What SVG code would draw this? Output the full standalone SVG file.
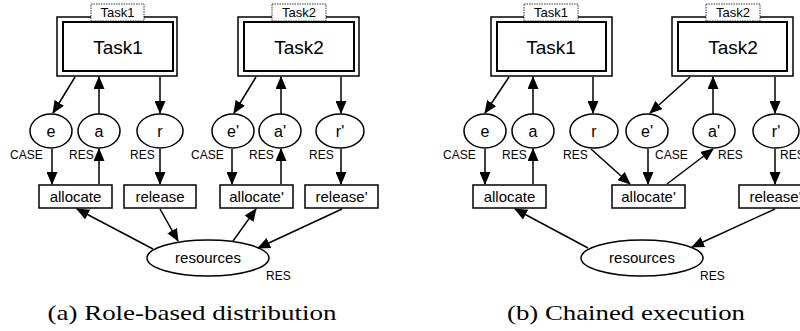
<svg xmlns="http://www.w3.org/2000/svg" width="800" height="331" viewBox="0 0 800 331">
<defs>
<marker id="ah" markerWidth="13" markerHeight="11" refX="12" refY="5.5" orient="auto" markerUnits="userSpaceOnUse">
<path d="M0,0 L13,5.5 L0,11 Z" fill="#000"/>
</marker>
<style>
.outer{fill:#fff;stroke:#000;stroke-width:1.5}
.inner{fill:#fff;stroke:#000;stroke-width:2}
.tab{fill:#fff;stroke:#000;stroke-width:0.8;stroke-dasharray:1.5,1}
.pl{fill:#fff;stroke:#000;stroke-width:1.5}
.tr{fill:#fff;stroke:#000;stroke-width:1.5}
.c line{stroke:#000;stroke-width:1.5;marker-end:url(#ah)}
text{font-family:"Liberation Sans",Arial,sans-serif;fill:#000}
.big{font-size:19px;text-anchor:middle}
.tabt{font-size:13px;text-anchor:middle}
.pt{font-size:16px;text-anchor:middle}
.rt{font-size:15px;text-anchor:middle}
.lab{font-size:12px}
.cap{font-family:"Liberation Serif","DejaVu Serif",serif;font-size:21px;text-anchor:middle}
</style>
</defs>

<!-- Panel a -->
<g id="a_task1"><rect class="outer" x="57" y="17" width="120" height="59"/><rect class="inner" x="63" y="22" width="110" height="49"/><rect class="tab" x="91" y="4" width="53" height="17"/><text class="tabt" x="117.5" y="17">Task1</text><text class="big" x="118" y="54">Task1</text></g>
<g id="a_task2"><rect class="outer" x="238" y="17" width="121" height="59"/><rect class="inner" x="244" y="22" width="110" height="49"/><rect class="tab" x="272" y="4" width="54" height="17"/><text class="tabt" x="299" y="17">Task2</text><text class="big" x="299" y="54">Task2</text></g>
<g id="a_e"><ellipse class="pl" cx="51" cy="131" rx="21" ry="17"/><text class="pt" x="51" y="137">e</text><text class="lab" x="10" y="159">CASE</text></g>
<g id="a_a"><ellipse class="pl" cx="99" cy="131" rx="21" ry="17"/><text class="pt" x="99" y="137">a</text><text class="lab" x="69" y="159">RES</text></g>
<g id="a_r"><ellipse class="pl" cx="160" cy="131" rx="23" ry="17"/><text class="pt" x="160" y="137">r</text><text class="lab" x="130" y="159">RES</text></g>
<g id="a_e2"><ellipse class="pl" cx="233" cy="131" rx="21" ry="17"/><text class="pt" x="233" y="137">e'</text><text class="lab" x="191" y="159">CASE</text></g>
<g id="a_a2"><ellipse class="pl" cx="280" cy="131" rx="21" ry="17"/><text class="pt" x="280" y="137">a'</text><text class="lab" x="249" y="159">RES</text></g>
<g id="a_r2"><ellipse class="pl" cx="340" cy="131" rx="24" ry="17"/><text class="pt" x="340" y="137">r'</text><text class="lab" x="309" y="159">RES</text></g>
<g id="a_alloc"><rect class="tr" x="39" y="185" width="73" height="23"/><text class="rt" x="75.5" y="201.5">allocate</text></g>
<g id="a_rel"><rect class="tr" x="124" y="185" width="72" height="23"/><text class="rt" x="160" y="201.5">release</text></g>
<g id="a_alloc2"><rect class="tr" x="220" y="185" width="73" height="23"/><text class="rt" x="256.5" y="201.5">allocate'</text></g>
<g id="a_rel2"><rect class="tr" x="305" y="185" width="73" height="23"/><text class="rt" x="341.5" y="201.5">release'</text></g>
<g id="a_res"><ellipse class="pl" cx="208" cy="258" rx="61" ry="18"/><text class="rt" x="208" y="263">resources</text><text class="lab" x="266" y="280">RES</text></g>

<!-- Panel b -->
<g id="b_task1"><rect class="outer" x="491" y="17" width="121" height="59"/><rect class="inner" x="497" y="22" width="109" height="49"/><rect class="tab" x="524" y="4" width="54" height="17"/><text class="tabt" x="551" y="17">Task1</text><text class="big" x="551" y="54">Task1</text></g>
<g id="b_task2"><rect class="outer" x="672" y="17" width="121" height="59"/><rect class="inner" x="678" y="22" width="109" height="49"/><rect class="tab" x="706" y="4" width="54" height="17"/><text class="tabt" x="733" y="17">Task2</text><text class="big" x="733" y="54">Task2</text></g>
<g id="b_e"><ellipse class="pl" cx="485" cy="131" rx="21" ry="17"/><text class="pt" x="485" y="137">e</text><text class="lab" x="443" y="159">CASE</text></g>
<g id="b_a"><ellipse class="pl" cx="533" cy="131" rx="21" ry="17"/><text class="pt" x="533" y="137">a</text><text class="lab" x="502" y="159">RES</text></g>
<g id="b_r"><ellipse class="pl" cx="594" cy="131" rx="24" ry="17"/><text class="pt" x="594" y="137">r</text><text class="lab" x="563" y="159">RES</text></g>
<g id="b_e2"><ellipse class="pl" cx="647" cy="131" rx="21" ry="17"/><text class="pt" x="647" y="137">e'</text><text class="lab" x="655" y="159">CASE</text></g>
<g id="b_a2"><ellipse class="pl" cx="714" cy="131" rx="21" ry="17"/><text class="pt" x="714" y="137">a'</text><text class="lab" x="718" y="159">RES</text></g>
<g id="b_r2"><ellipse class="pl" cx="776" cy="131" rx="23" ry="17"/><text class="pt" x="776" y="137">r'</text><text class="lab" x="780" y="159">RES</text></g>
<g id="b_alloc"><rect class="tr" x="473" y="185" width="73" height="23"/><text class="rt" x="509.5" y="201.5">allocate</text></g>
<g id="b_alloc2"><rect class="tr" x="612" y="185" width="73" height="23"/><text class="rt" x="648.5" y="201.5">allocate'</text></g>
<g id="b_rel2"><rect class="tr" x="739" y="185" width="73" height="23"/><text class="rt" x="775.5" y="201.5">release'</text></g>
<g id="b_res"><ellipse class="pl" cx="642" cy="258" rx="61" ry="18"/><text class="rt" x="642" y="263">resources</text><text class="lab" x="700" y="280">RES</text></g>

<g id="connectors" class="c">
<!-- a -->
<line x1="75" y1="77" x2="53" y2="113"/>
<line x1="99" y1="114" x2="99" y2="77"/>
<line x1="160" y1="77" x2="160" y2="113"/>
<line x1="256" y1="77" x2="234" y2="113"/>
<line x1="281" y1="114" x2="281" y2="77"/>
<line x1="341" y1="77" x2="341" y2="113"/>
<line x1="52" y1="149" x2="52" y2="184"/>
<line x1="99" y1="184" x2="99" y2="149"/>
<line x1="160" y1="149" x2="160" y2="184"/>
<line x1="232" y1="149" x2="232" y2="184"/>
<line x1="281" y1="184" x2="281" y2="149"/>
<line x1="341" y1="149" x2="341" y2="184"/>
<line x1="153" y1="249" x2="77" y2="209"/>
<line x1="160" y1="209" x2="178" y2="241"/>
<line x1="233" y1="241" x2="256" y2="209"/>
<line x1="342" y1="209" x2="258" y2="248"/>
<!-- b -->
<line x1="509" y1="77" x2="485" y2="113"/>
<line x1="533" y1="114" x2="533" y2="77"/>
<line x1="593" y1="77" x2="593" y2="113"/>
<line x1="690" y1="77" x2="650" y2="113"/>
<line x1="713" y1="114" x2="713" y2="77"/>
<line x1="775" y1="77" x2="775" y2="113"/>
<line x1="485" y1="149" x2="485" y2="184"/>
<line x1="533" y1="184" x2="533" y2="149"/>
<line x1="591" y1="149" x2="630" y2="184"/>
<line x1="648" y1="149" x2="648" y2="184"/>
<line x1="667" y1="184" x2="713" y2="149"/>
<line x1="775" y1="149" x2="775" y2="184"/>
<line x1="588" y1="248" x2="515" y2="209"/>
<line x1="775" y1="209" x2="692" y2="247"/>
</g>

<text class="cap" x="192" y="320" textLength="289" lengthAdjust="spacingAndGlyphs">(a) Role-based distribution</text>
<text class="cap" x="626" y="320" textLength="238" lengthAdjust="spacingAndGlyphs">(b) Chained execution</text>
</svg>
